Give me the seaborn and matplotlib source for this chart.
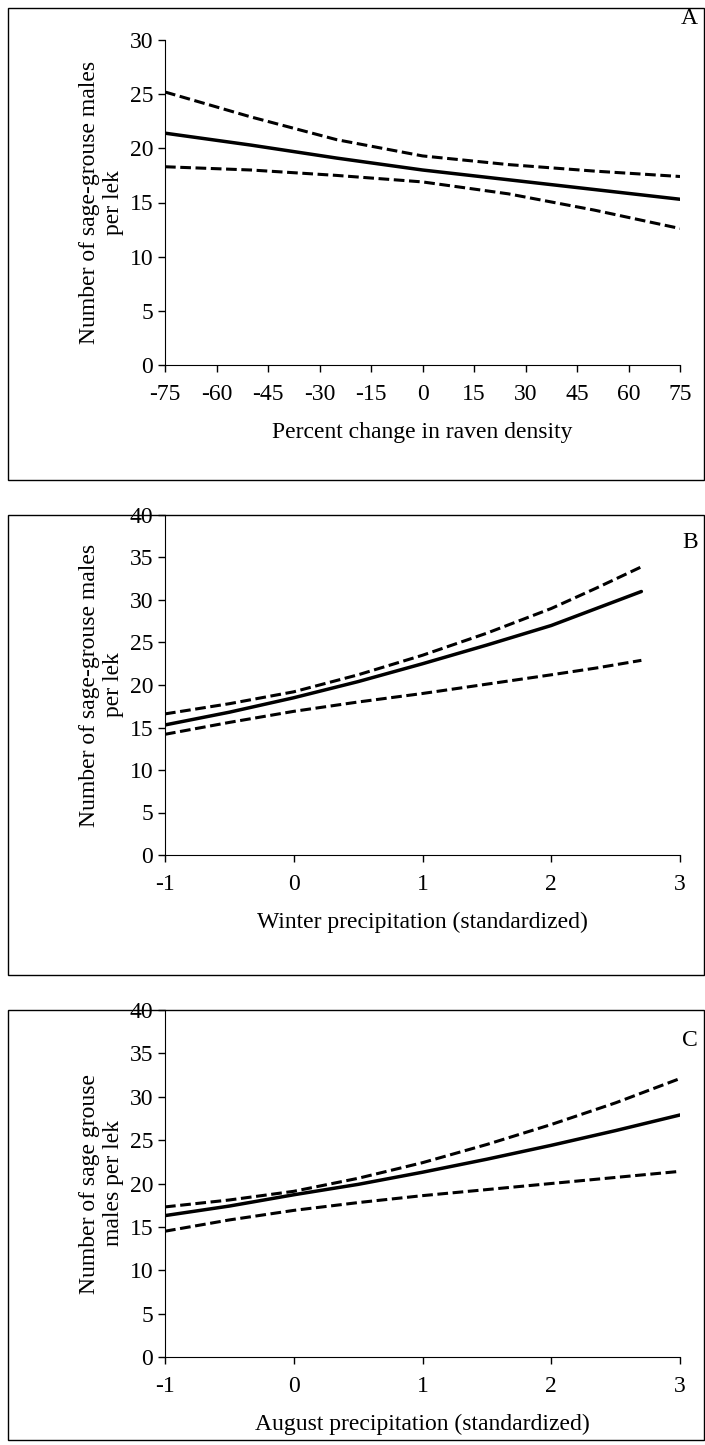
import numpy as np
import pandas as pd
import matplotlib.pyplot as plt
import seaborn as sns
from matplotlib.patches import Rectangle

# panel A
a_x = [-75, -50, -25, 0, 25, 50, 75]
a_mean = [21.4, 20.3, 19.1, 18.0, 17.1, 16.2, 15.3]
a_up = [25.2, 22.9, 20.8, 19.3, 18.5, 17.9, 17.4]
a_lo = [18.3, 18.0, 17.5, 16.9, 15.8, 14.3, 12.6]
# panel B
b_x = [-1, -0.5, 0, 0.5, 1, 1.5, 2, 2.35, 2.7]
b_mean = [15.3, 16.8, 18.5, 20.4, 22.5, 24.7, 27.0, 29.0, 31.0]
b_up = [16.6, 17.8, 19.2, 21.2, 23.5, 26.1, 29.0, 31.4, 33.9]
b_lo = [14.2, 15.6, 16.9, 18.0, 19.0, 20.1, 21.2, 22.0, 22.9]
# panel C
c_x = [-1, -0.5, 0, 0.5, 1, 1.5, 2, 2.5, 3]
c_mean = [16.3, 17.4, 18.7, 19.9, 21.3, 22.8, 24.4, 26.1, 27.9]
c_up = [17.3, 18.1, 19.1, 20.6, 22.4, 24.5, 26.8, 29.3, 32.1]
c_lo = [14.5, 15.8, 16.9, 17.8, 18.6, 19.3, 20.0, 20.7, 21.4]

sns.set_style('ticks')
plt.rcParams['font.family'] = ['Liberation Serif', 'DejaVu Serif']
plt.rcParams['font.size'] = 17
plt.rcParams['axes.unicode_minus'] = False
for k in ['text.color', 'axes.labelcolor', 'xtick.color', 'ytick.color', 'axes.edgecolor']:
    plt.rcParams[k] = 'black'

W, H = 705, 1445
fig = plt.figure(figsize=(W / 100, H / 100), dpi=100)

panels = [
    (a_x, a_mean, a_up, a_lo, 'A', 'Percent change in raven density',
     'Number of sage-grouse males\nper lek', (-75, 75), np.arange(-75, 76, 15), 30, (8, 480), 40, 365, 18),
    (b_x, b_mean, b_up, b_lo, 'B', 'Winter precipitation (standardized)',
     'Number of sage-grouse males\nper lek', (-1, 3), np.arange(-1, 4), 40, (515, 975), 515, 855, 543),
    (c_x, c_mean, c_up, c_lo, 'C', 'August precipitation (standardized)',
     'Number of sage grouse\nmales per lek', (-1, 3), np.arange(-1, 4), 40, (1010, 1440), 1010, 1357, 1040),
]

for x, m, u, l, lab, xl, yl, xlim, xt, ymax, box, top, bot, laby in panels:
    fig.patches.append(Rectangle((8 / W, 1 - box[1] / H), (W - 9) / W, (box[1] - box[0]) / H,
                                 transform=fig.transFigure, fill=False, ec='black', lw=1))
    ax = fig.add_axes([165 / W, 1 - bot / H, 515 / W, (bot - top) / H])
    df = pd.DataFrame({'x': x, 'mean': m, 'up': u, 'lo': l})
    sns.lineplot(data=df, x='x', y='mean', ax=ax, color='black', lw=2.5)
    sns.lineplot(data=df, x='x', y='up', ax=ax, color='black', lw=2.2, linestyle=(0, (3.5, 1.5)))
    sns.lineplot(data=df, x='x', y='lo', ax=ax, color='black', lw=2.2, linestyle=(0, (3.5, 1.5)))
    ax.set_xlim(*xlim)
    ax.set_ylim(0, ymax)
    ax.set_xticks(xt)
    ax.set_yticks(np.arange(0, ymax + 1, 5))
    ax.set_xlabel(xl, labelpad=12)
    ax.set_ylabel(yl, labelpad=4)
    ax.tick_params(direction='out', length=5, width=1)
    ax.tick_params(axis='x', pad=9)
    sns.despine(ax=ax)
    fig.text(698 / W, 1 - laby / H, lab, ha='right', va='center')

fig.savefig('out.png', dpi=100)
